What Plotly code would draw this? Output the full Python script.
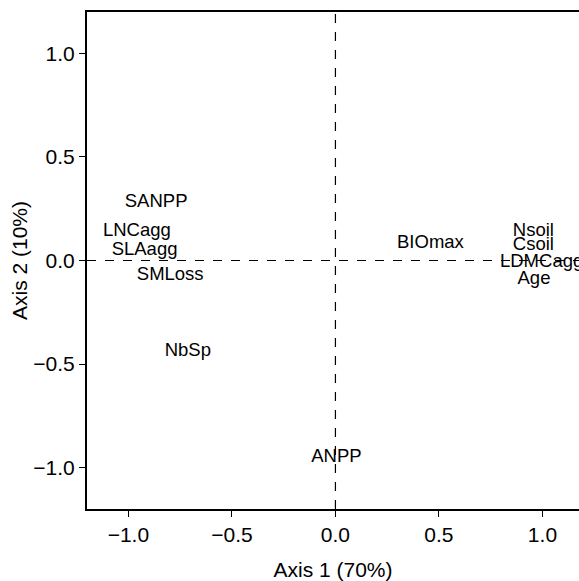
import plotly.graph_objects as go

labels = ["SANPP", "LNCagg", "SLAagg", "SMLoss", "NbSp", "BIOmax",
          "Nsoil", "Csoil", "LDMCagg", "Age", "ANPP"]
axis1 = [-0.866, -0.959, -0.922, -0.798, -0.713, 0.459,
         0.956, 0.956, 0.996, 0.959, 0.005]
axis2 = [0.281, 0.140, 0.047, -0.071, -0.440, 0.084,
         0.139, 0.071, -0.010, -0.090, -0.953]
tick_vals = [-1.0, -0.5, 0.0, 0.5, 1.0]
tick_text = ["\u22121.0", "\u22120.5", "0.0", "0.5", "1.0"]

FONT = "Liberation Sans, Arial, sans-serif"

fig = go.Figure()
fig.add_trace(go.Scatter(
    x=axis1, y=axis2, text=labels, mode="text",
    textposition="middle center", cliponaxis=False,
    textfont=dict(family=FONT, size=18.5, color="black"),
    showlegend=False, hoverinfo="text"))

fig.add_hline(y=0, line=dict(color="black", width=1.2, dash="dash"), layer="below")
fig.add_vline(x=0, line=dict(color="black", width=1.2, dash="dash"), layer="below")

fig.update_layout(
    width=579, height=581,
    margin=dict(l=87, r=0, t=12, b=72, autoexpand=False),
    paper_bgcolor="white", plot_bgcolor="white",
    font=dict(family=FONT, size=21, color="black"),
    xaxis=dict(range=[-1.2, 1.1765], tickvals=tick_vals, ticktext=tick_text,
               automargin=False,
               showgrid=False, zeroline=False, showline=True, linecolor="black",
               linewidth=2, mirror=True, ticks="outside", ticklen=6, tickwidth=1,
               tickcolor="black", tickfont=dict(size=21),
               title=dict(text="Axis 1 (70%)", font=dict(size=21), standoff=18)),
    yaxis=dict(range=[-1.2, 1.2], tickvals=tick_vals, ticktext=tick_text,
               automargin=False,
               showgrid=False, zeroline=False, showline=True, linecolor="black",
               linewidth=2, mirror=False, ticks="outside", ticklen=6, tickwidth=1,
               tickcolor="black", tickfont=dict(size=21),
               title=dict(text="Axis 2 (10%)", font=dict(size=21), standoff=0)),
)

fig.write_html(
    "out.html",
    config={"displayModeBar": False},
    post_script="document.body.style.margin='0';document.body.style.overflow='hidden';",
)
